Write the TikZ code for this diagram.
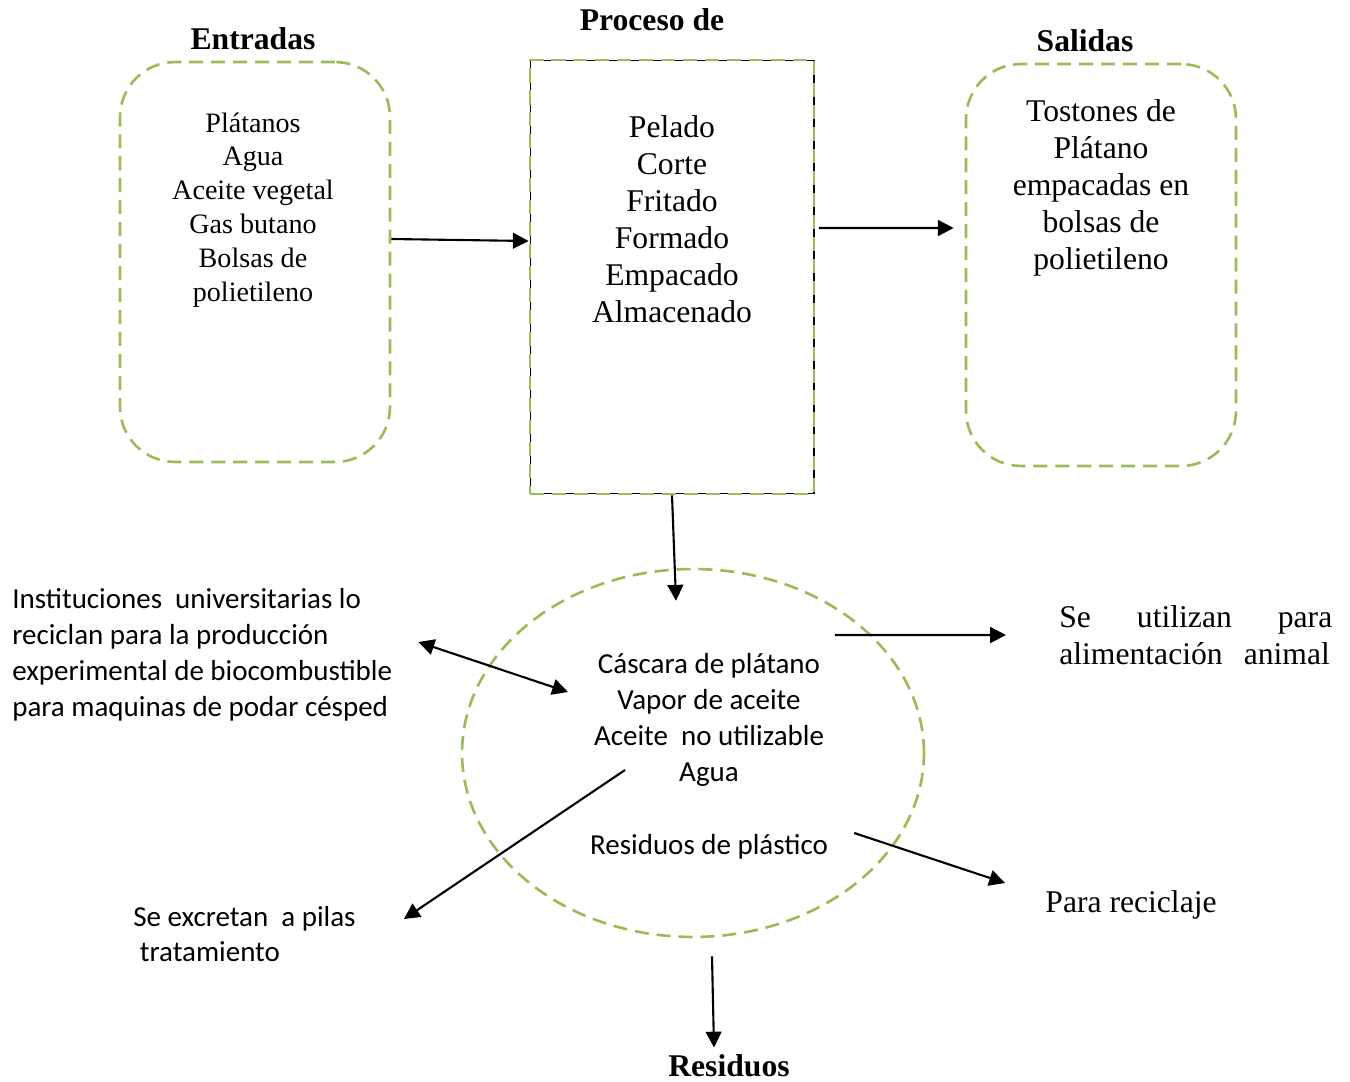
\documentclass[tikz,border=0pt]{standalone}
\usepackage{fontspec}
\setmainfont{Liberation Serif}
\setsansfont{Carlito}
\usetikzlibrary{arrows.meta, shapes.geometric, positioning}
\definecolor{boxGreen}{HTML}{9BBB59}

\begin{document}
\begin{tikzpicture}[
    x=0.02cm, y=-0.02cm,
    title/.style={inner sep=0pt, font=\fontsize{18}{21}\selectfont\bfseries},
    serifText/.style={inner sep=0pt, align=center, font=\fontsize{18}{21}\selectfont},
    inText/.style={inner sep=0pt, align=center, font=\fontsize{16}{19.3}\selectfont},
    sansText/.style={inner sep=0pt, align=center, font=\sffamily\fontsize{16.5}{20.4}\selectfont},
    greenDash/.style={draw=boxGreen, line width=1.5pt, dash pattern=on 8pt off 4.5pt},
    dashbox/.style={greenDash, rounded corners=1.1cm},
    procbox/.style={greenDash, preaction={draw=black, line width=0.6pt, solid}},
    arr/.style={line width=1.2pt, -{Triangle[length=9pt, width=9pt]}},
]
    \useasboundingbox (0,0) rectangle (1350,1082);

    % Entradas
    \node[title] (entTitle) at (253,39) {Entradas};
    \node[dashbox, minimum width=5.4cm, minimum height=8cm] (entradas) at (255,262) {};
    \node[inText] (entTxt) at (253,210) {Plátanos\\Agua\\Aceite vegetal\\Gas butano\\Bolsas de\\polietileno};

    % Proceso
    \node[title] (procTitle) at (652,20) {Proceso de};
    \node[procbox, minimum width=5.68cm, minimum height=8.68cm] (proceso) at (672,277) {};
    \node[serifText] (procTxt) at (672,219) {Pelado\\Corte\\Fritado\\Formado\\Empacado\\Almacenado};

    % Salidas
    \node[title] (salTitle) at (1085,41) {Salidas};
    \node[dashbox, minimum width=5.4cm, minimum height=8.04cm] (salidas) at (1101,265) {};
    \node[serifText] (salTxt) at (1101,188) {Tostones de\\Plátano\\empacadas en\\bolsas de\\polietileno};

    % Residuos
    \node[ellipse, greenDash, inner sep=0pt, minimum width=9.24cm, minimum height=7.36cm] (residuos) at (693,753) {};
    \node[sansText] (resTxt) at (709,720) {Cáscara de plátano\\Vapor de aceite\\Aceite\ \ no utilizable\\Agua};
    \node[sansText] (plastico) at (709,847) {Residuos de plástico};
    \node[title] (resTitle) at (729,1066) {Residuos};

    % Destinos
    \node[sansText, align=left, anchor=west] (instit) at (12,655) {Instituciones\ \ universitarias lo\\reciclan para la producción\\experimental de biocombustible\\para maquinas de podar césped};
    \node[sansText, align=left, anchor=west] (excretan) at (133,934) {Se excretan\ \ a pilas\\\ tratamiento};
    \node[serifText, text width=5.46cm, align=left, anchor=west] (animal) at (1059,635) {Se\hfill utilizan\hfill para\\alimentación\ \ animal};
    \node[serifText] (reciclaje) at (1131,905) {Para reciclaje};

    % Flechas
    \draw[arr] ([yshift=0.46cm]entradas.east) -- ([yshift=0.72cm]proceso.west);
    \draw[arr] ([xshift=2pt, yshift=0.98cm]proceso.east) -- ([xshift=-0.22cm, yshift=0.74cm]salidas.west);
    \draw[arr] (proceso.south) -- ([xshift=-0.34cm, yshift=-0.66cm]residuos.north);
    \draw[arr, {Triangle[length=9pt, width=9pt]}-{Triangle[length=9pt, width=9pt]}] ([xshift=0.52cm, yshift=0.26cm]instit.east) -- ([xshift=-2.5cm, yshift=1.22cm]residuos.center);
    \draw[arr] ([xshift=2.84cm, yshift=2.36cm]residuos.center) -- ([xshift=-1.06cm]animal.west);
    \draw[arr] ([xshift=-1.36cm, yshift=-0.34cm]residuos.center) -- ([xshift=0.96cm, yshift=0.3cm]excretan.east);
    \draw[arr] ([xshift=0.52cm, yshift=0.28cm]plastico.east) -- ([xshift=-0.8cm, yshift=0.44cm]reciclaje.west);
    \draw[arr] ([xshift=0.38cm, yshift=-0.36cm]residuos.south) -- ([xshift=-0.3cm, yshift=0.14cm]resTitle.north);
\end{tikzpicture}
\end{document}
